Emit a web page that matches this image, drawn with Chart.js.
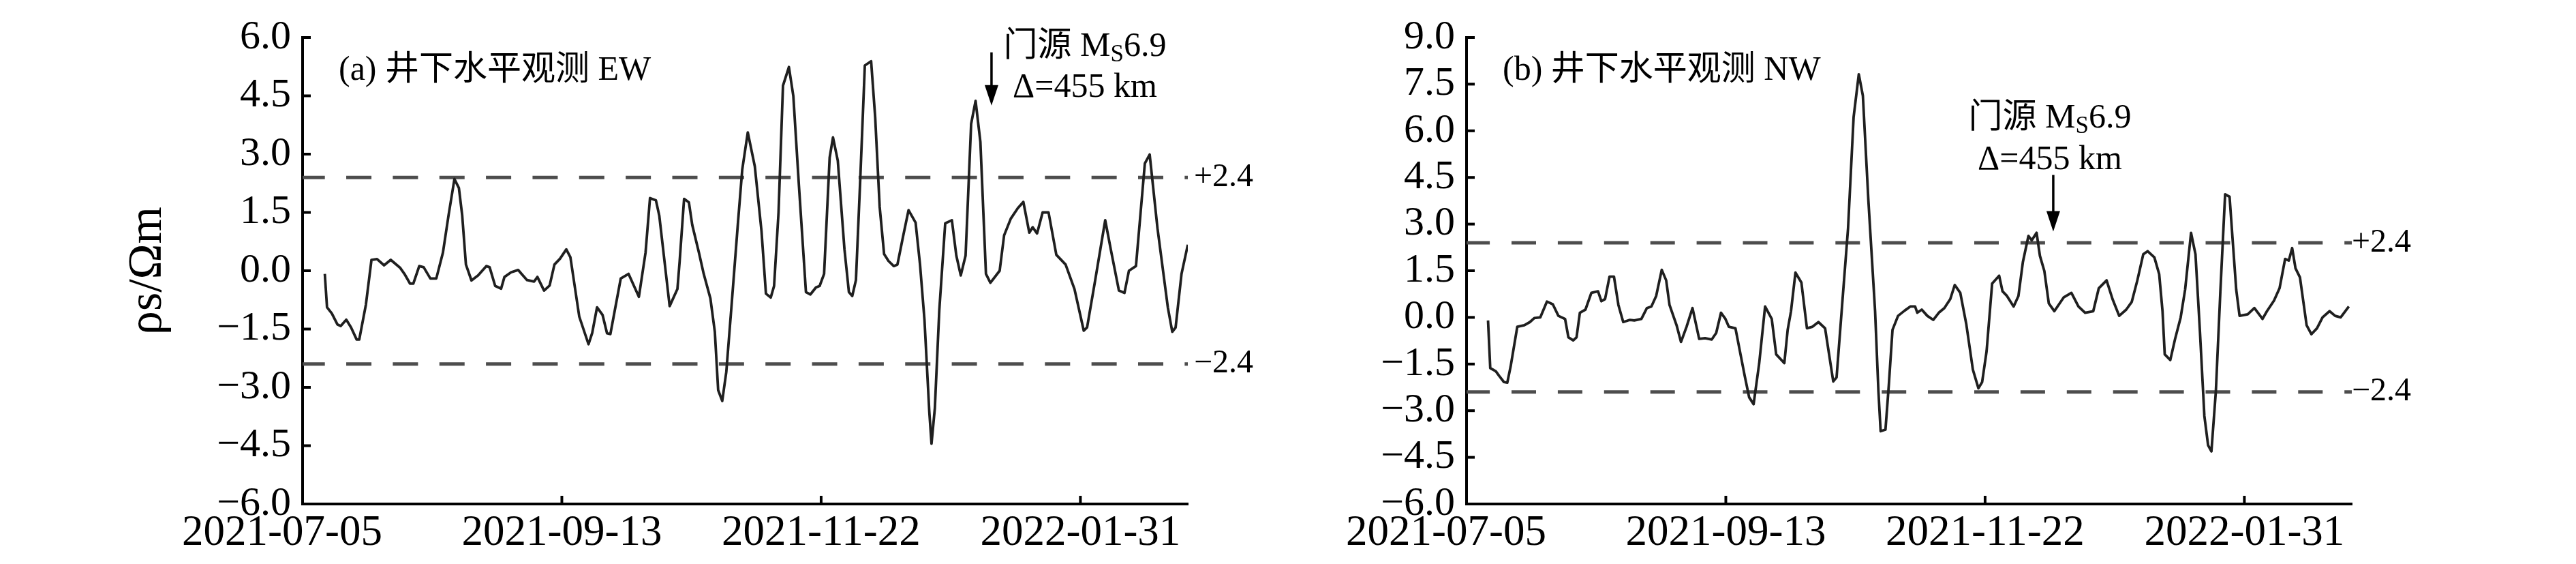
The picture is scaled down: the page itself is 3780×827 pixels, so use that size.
<!DOCTYPE html>
<html>
<head>
<meta charset="utf-8">
<script src="https://cdn.jsdelivr.net/npm/chart.js@4/dist/chart.umd.min.js"></script>
<style>
  html, body { margin: 0; padding: 0; background: #fff; }
  #wrap { position: relative; width: 3780px; height: 827px; }
  canvas { position: absolute; top: 0; }
</style>
</head>
<body>
<div id="wrap">
  <canvas id="chartEW" width="1890" height="827" style="left:0"></canvas>
  <canvas id="chartNW" width="1890" height="827" style="left:1890px"></canvas>
</div>
<script>
// x axis: days since 2021-07-05
const startDate = "2021-07-05";
const xTickLabels = ["2021-07-05", "2021-09-13", "2021-11-22", "2022-01-31"];
const xMaxDay = 239;

// (a) EW
const ewDays = [6.0, 6.6, 7.9, 9.4, 10.3, 11.8, 13.1, 14.6, 15.3, 17.1, 18.6, 20.1, 22.0, 23.8, 26.3, 27.5, 29.0, 29.9,
  31.5, 32.7, 34.5, 36.1, 37.9, 39.4, 41.0, 42.2, 43.1, 44.1, 45.6, 47.4, 49.6, 50.5, 52.0, 53.6, 54.5, 56.3, 58.2,
  59.1, 60.6, 62.5, 63.4, 65.2, 66.7, 68.0, 69.5, 71.2, 72.3, 74.7, 77.2, 78.2, 79.5, 81.0, 82.2, 83.1, 85.9, 88.0,
  90.8, 92.6, 93.8, 95.4, 96.3, 99.1, 101.2, 101.8, 103.0, 104.3, 105.2, 107.0, 108.3, 110.1, 111.3, 112.2, 113.3,
  114.4, 115.9, 117.5, 118.7, 120.2, 122.1, 123.9, 125.1, 126.4, 127.3, 128.5, 129.7, 131.3, 132.5, 134.0, 135.9,
  137.1, 138.6, 139.6, 140.8, 142.3, 143.2, 144.5, 146.3, 147.5, 148.4, 149.4, 150.6, 151.8, 153.5, 154.6, 155.8,
  157.0, 158.2, 159.6, 160.6, 162.1, 163.6, 165.5, 166.7, 167.9, 169.2, 169.8, 170.7, 171.9, 173.5, 175.3, 176.5,
  177.7, 179.0, 180.5, 181.7, 183.0, 184.5, 185.7, 188.2, 189.4, 191.2, 193.1, 194.6, 196.2, 197.1, 198.3, 199.8,
  201.4, 203.5, 206.0, 208.4, 210.9, 211.8, 214.0, 216.7, 218.2, 220.4, 221.9, 223.1, 225.0, 227.4, 228.7, 230.8,
  233.6, 234.8, 235.7, 237.3, 239.0];
const ewValues = [-0.08, -0.94, -1.10, -1.38, -1.42, -1.26, -1.46, -1.77, -1.77, -0.87, 0.28, 0.30, 0.14, 0.28, 0.08,
  -0.08, -0.33, -0.33, 0.12, 0.09, -0.20, -0.20, 0.47, 1.42, 2.36, 2.13, 1.42, 0.16, -0.25, -0.12, 0.12, 0.09, -0.39,
  -0.46, -0.16, -0.04, 0.02, -0.08, -0.24, -0.28, -0.16, -0.51, -0.38, 0.16, 0.31, 0.55, 0.35, -1.18, -1.89, -1.60,
  -0.94, -1.14, -1.61, -1.63, -0.20, -0.08, -0.67, 0.47, 1.87, 1.81, 1.42, -0.91, -0.47, 0.24, 1.85, 1.76, 1.18, 0.47,
  -0.08, -0.71, -1.57, -3.07, -3.35, -2.60, -0.79, 1.18, 2.60, 3.56, 2.68, 1.02, -0.59, -0.69, -0.39, 1.50, 4.76, 5.24,
  4.49, 2.20, -0.55, -0.61, -0.43, -0.39, -0.08, 2.91, 3.43, 2.83, 0.55, -0.55, -0.65, -0.24, 2.44, 5.28, 5.39, 3.94,
  1.65, 0.43, 0.25, 0.12, 0.16, 0.87, 1.56, 1.24, 0.16, -1.26, -3.62, -4.45, -3.54, -1.02, 1.22, 1.30, 0.39, -0.12,
  0.39, 3.78, 4.37, 3.31, -0.08, -0.31, 0.00, 0.91, 1.34, 1.61, 1.77, 0.98, 1.12, 0.96, 1.50, 1.50, 0.41, 0.16, -0.47,
  -1.54, -1.46, -0.24, 1.30, 0.55, -0.51, -0.57, 0.00, 0.12, 2.76, 2.99, 1.10, -0.94, -1.57, -1.46, -0.08, 0.67];
const ewYTicks = [-6, -4.5, -3, -1.5, 0, 1.5, 3, 4.5, 6];

// (b) NW
const nwDays = [5.8, 6.4, 7.9, 8.8, 10.1, 11.0, 11.9, 13.7, 15.6, 17.1, 18.3, 19.9, 21.7, 23.3, 24.8, 26.6, 27.5, 28.8,
  29.7, 30.6, 32.1, 33.7, 35.5, 36.4, 37.4, 38.6, 39.8, 41.0, 42.3, 44.1, 45.3, 47.2, 48.7, 49.9, 51.2, 52.7, 53.9,
  54.8, 56.7, 57.9, 59.4, 61.0, 62.8, 64.4, 66.2, 67.4, 68.7, 69.9, 70.8, 72.6, 75.1, 76.3, 77.5, 79.0, 80.6, 82.4,
  83.6, 85.8, 86.7, 87.6, 88.8, 90.4, 91.9, 93.4, 95.0, 96.8, 99.0, 99.9, 101.4, 103.0, 104.5, 105.9, 107.0, 108.5,
  110.3, 111.2, 111.8, 113.1, 114.0, 115.0, 116.5, 118.3, 119.8, 121.1, 121.7, 122.9, 124.4, 126.0, 127.5, 129.0,
  130.6, 131.8, 133.3, 134.9, 136.7, 138.2, 139.2, 140.4, 141.9, 143.8, 144.7, 145.9, 147.7, 149.0, 150.2, 151.7,
  152.6, 153.9, 154.8, 156.0, 157.2, 158.7, 161.2, 163.3, 165.2, 167.0, 169.2, 170.7, 172.8, 174.4, 176.2, 178.1,
  179.6, 181.1, 182.7, 183.9, 185.7, 187.0, 187.9, 188.5, 190.0, 191.3, 192.8, 194.0, 195.6, 196.8, 198.0, 199.2,
  200.2, 201.1, 202.3, 203.5, 204.8, 206.0, 206.9, 207.8, 208.7, 210.9, 212.7, 214.9, 216.1, 218.0, 219.5, 221.0,
  222.0, 222.9, 223.8, 225.0, 226.8, 228.1, 229.6, 231.1, 233.0, 234.5, 236.0, 238.2];
const nwValues = [-0.10, -1.63, -1.73, -1.88, -2.08, -2.10, -1.58, -0.30, -0.25, -0.15, -0.02, 0.00, 0.51, 0.42, 0.05,
  -0.05, -0.64, -0.74, -0.64, 0.15, 0.25, 0.79, 0.84, 0.52, 0.59, 1.31, 1.31, 0.40, -0.15, -0.08, -0.10, -0.05, 0.30,
  0.35, 0.69, 1.53, 1.19, 0.40, -0.25, -0.79, -0.30, 0.30, -0.69, -0.67, -0.71, -0.50, 0.15, -0.05, -0.30, -0.35,
  -1.88, -2.57, -2.79, -1.49, 0.35, -0.05, -1.19, -1.47, -0.40, 0.20, 1.44, 1.12, -0.35, -0.30, -0.15, -0.35, -2.06,
  -1.93, 0.40, 2.87, 6.44, 7.82, 7.13, 3.74, 0.20, -2.38, -3.66, -3.61, -2.18, -0.40, 0.05, 0.22, 0.35, 0.35, 0.15,
  0.25, 0.05, -0.08, 0.15, 0.30, 0.59, 1.04, 0.79, -0.20, -1.68, -2.28, -2.08, -1.09, 1.09, 1.34, 0.84, 0.69, 0.35,
  0.69, 1.78, 2.62, 2.48, 2.72, 1.98, 1.49, 0.45, 0.20, 0.64, 0.79, 0.35, 0.15, 0.20, 0.94, 1.19, 0.59, 0.05, 0.25,
  0.50, 1.19, 2.03, 2.13, 1.93, 1.39, 0.20, -1.19, -1.37, -0.69, 0.00, 0.89, 2.72, 2.03, -0.45, -3.17, -4.11, -4.31,
  -2.38, 0.79, 3.96, 3.88, 2.38, 0.89, 0.05, 0.10, 0.30, -0.05, 0.20, 0.54, 0.94, 1.88, 1.83, 2.23, 1.58, 1.29, -0.25,
  -0.54, -0.35, 0.00, 0.20, 0.05, 0.00, 0.35];
const nwYTicks = [-6, -4.5, -3, -1.5, 0, 1.5, 3, 4.5, 6, 7.5, 9];

const thresholds = [2.4, -2.4];
// 门源 Ms6.9 marker: day of the arrow and value at its tip, per panel
const quakeDays = [186, 158.4];
const quakeTips = [4.25, 2.76];

const xTickDays = xTickLabels.map(d => (Date.parse(d) - Date.parse(startDate)) / 86400000);

const serif = '"Liberation Serif", "Times New Roman", serif';
const serifCjk = '"Liberation Serif", "Noto Sans CJK SC", serif';
const xLabelSize = 63;
const xLabelPad = 6;

function fmtTick(v) {
  return (v < 0 ? "\u2212" : "") + Math.abs(v).toFixed(1);
}

const panelExtras = {
  id: "panelExtras",
  afterDraw(chart, args, o) {
    const ctx = chart.ctx;
    const a = chart.chartArea;
    const x = chart.scales.x, y = chart.scales.y;
    ctx.save();

    // ticks pointing into the plot
    ctx.strokeStyle = "#000";
    ctx.lineWidth = 4;
    y.ticks.forEach(t => {
      const py = y.getPixelForValue(t.value);
      ctx.beginPath(); ctx.moveTo(a.left, py); ctx.lineTo(a.left + 12, py); ctx.stroke();
    });
    x.ticks.forEach(t => {
      const px = x.getPixelForValue(t.value);
      ctx.beginPath(); ctx.moveTo(px, a.bottom); ctx.lineTo(px, a.bottom - 12); ctx.stroke();
    });

    // first date label sits a little left of its tick, as in the original figure
    ctx.fillStyle = "#000";
    ctx.font = xLabelSize + "px " + serif;
    ctx.textAlign = "center";
    ctx.textBaseline = "middle";
    ctx.fillText(xTickLabels[0], x.getPixelForValue(xTickDays[0]) - 30, a.bottom + xLabelPad + xLabelSize * 0.6);

    // panel title
    ctx.textAlign = "left";
    ctx.textBaseline = "alphabetic";
    ctx.font = "50px " + serifCjk;
    ctx.fillText(o.title, a.left + 53, a.top + 62);

    // threshold labels
    ctx.font = "48px " + serif;
    ctx.textBaseline = "middle";
    thresholds.forEach(t => {
      ctx.fillText((t > 0 ? "+" : "\u2212") + Math.abs(t).toFixed(1), a.right + o.labelDx, y.getPixelForValue(t));
    });

    // quake arrow
    const ax = x.getPixelForValue(quakeDays[o.idx]);
    const tip = y.getPixelForValue(quakeTips[o.idx]);
    ctx.lineWidth = 3.5;
    ctx.beginPath(); ctx.moveTo(ax, tip - o.arrowLen); ctx.lineTo(ax, tip - 20); ctx.stroke();
    ctx.beginPath();
    ctx.moveTo(ax, tip); ctx.lineTo(ax - 10, tip - 30); ctx.lineTo(ax + 10, tip - 30); ctx.closePath();
    ctx.fill();

    // quake text, line 1 with subscript S
    const cx = ax + o.textDx;
    ctx.textBaseline = "alphabetic";
    ctx.font = "50px " + serifCjk;
    const p1 = "门源 M", p3 = "6.9";
    const w1 = ctx.measureText(p1).width, w3 = ctx.measureText(p3).width;
    ctx.font = "35px " + serif;
    const w2 = ctx.measureText("S").width;
    const sx = cx - (w1 + w2 + w3) / 2;
    const b1 = tip - o.line1Up;
    ctx.font = "50px " + serifCjk;
    ctx.fillText(p1, sx, b1);
    ctx.font = "35px " + serif;
    ctx.fillText("S", sx + w1, b1 + 8);
    ctx.font = "50px " + serif;
    ctx.fillText(p3, sx + w1 + w2, b1);
    ctx.textAlign = "center";
    ctx.fillText("\u0394=455 km", cx, tip - o.line2Up);

    ctx.restore();
  }
};

function buildChart(id, cfg) {
  const ctx = document.getElementById(id).getContext("2d");
  const pts = cfg.days.map((d, i) => ({ x: d, y: cfg.values[i] }));
  const datasets = [{
    data: pts,
    borderColor: "#1f1f1f",
    borderWidth: 3.8,
    pointRadius: 0,
    tension: 0,
    borderJoinStyle: "round",
    order: 0
  }];
  thresholds.forEach(t => {
    datasets.push({
      data: [{ x: 0, y: t }, { x: xMaxDay, y: t }],
      borderColor: "#4d4d4d",
      borderWidth: 5,
      borderDash: cfg.dash,
      borderDashOffset: cfg.dashOffset,
      pointRadius: 0,
      order: 1
    });
  });

  return new Chart(ctx, {
    type: "line",
    data: { datasets: datasets },
    options: {
      responsive: false,
      animation: false,
      devicePixelRatio: 1,
      layout: { padding: cfg.padding },
      plugins: {
        legend: { display: false },
        tooltip: { enabled: false },
        panelExtras: cfg.extras
      },
      scales: {
        x: {
          type: "linear",
          min: 0,
          max: xMaxDay,
          grid: { display: false, drawTicks: false, tickLength: 0 },
          border: { display: true, width: 4, color: "#000" },
          afterBuildTicks: s => { s.ticks = xTickDays.map(v => ({ value: v })); },
          afterFit: s => { s.height = cfg.xHeight; },
          ticks: {
            autoSkip: false,
            maxRotation: 0,
            padding: xLabelPad,
            color: "#000",
            font: { family: serif, size: xLabelSize },
            callback: (v, i) => (i === 0 ? "" : xTickLabels[i])
          }
        },
        y: {
          min: cfg.yTicks[0],
          max: cfg.yTicks[cfg.yTicks.length - 1],
          grid: { display: false, drawTicks: false, tickLength: 0 },
          border: { display: true, width: 4, color: "#000" },
          afterBuildTicks: s => { s.ticks = cfg.yTicks.map(v => ({ value: v })); },
          afterFit: s => { s.width = cfg.yWidth; },
          ticks: {
            autoSkip: false,
            padding: 17,
            color: "#000",
            font: { family: serif, size: 60 },
            callback: v => fmtTick(v)
          },
          title: {
            display: cfg.yTitle !== "",
            text: cfg.yTitle,
            color: "#000",
            font: { family: serif, size: 70 },
            padding: { top: 176, bottom: 0 }
          }
        }
      }
    },
    plugins: [panelExtras]
  });
}

buildChart("chartEW", {
  days: ewDays,
  values: ewValues,
  yTicks: ewYTicks,
  yTitle: "\u03c1s/\u03a9m",
  yWidth: 444,
  xHeight: 88,
  padding: { left: 0, right: 147, top: 55, bottom: 0 },
  dash: [37, 31.35],
  dashOffset: 4.3,
  extras: { idx: 0, title: "(a) 井下水平观测 EW", labelDx: 9, arrowLen: 78, textDx: 137, line1Up: 73, line2Up: 13 }
});

buildChart("chartNW", {
  days: nwDays,
  values: nwValues,
  yTicks: nwYTicks,
  yTitle: "",
  yWidth: 262,
  xHeight: 88,
  padding: { left: 0, right: 329, top: 55, bottom: 0 },
  dash: [36, 31.9],
  dashOffset: 1.9,
  extras: { idx: 1, title: "(b) 井下水平观测 NW", labelDx: 0, arrowLen: 83, textDx: -5, line1Up: 153, line2Up: 92 }
});
</script>
</body>
</html>
